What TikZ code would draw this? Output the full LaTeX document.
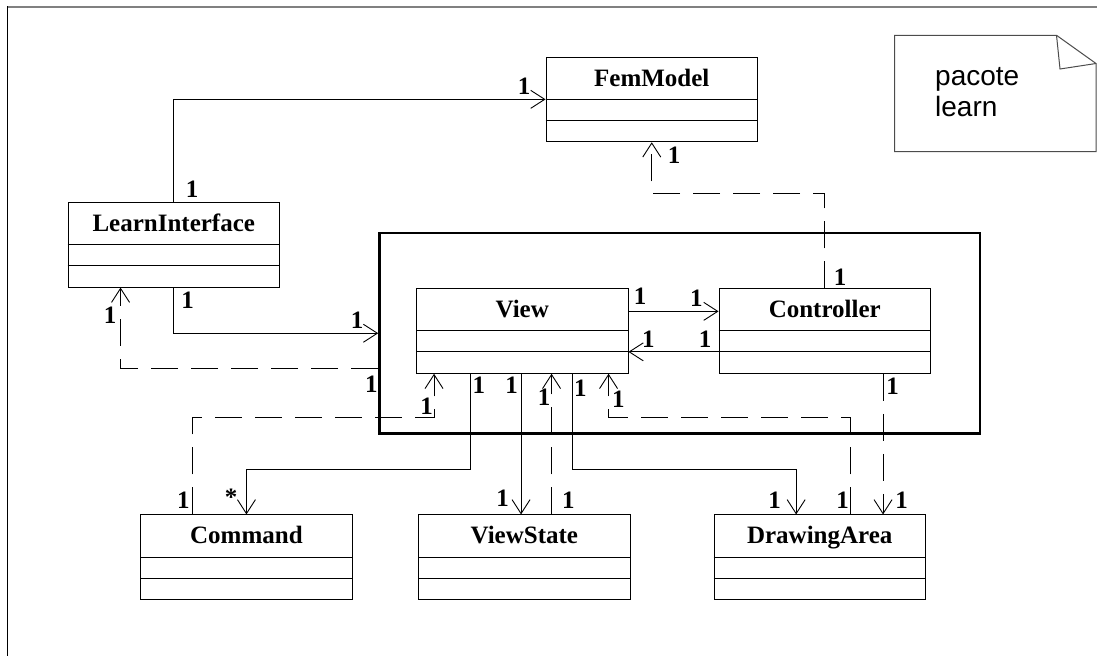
\documentclass[tikz,border=0pt]{standalone}
\usepackage{fontspec}
\setmainfont{Liberation Serif}
\newfontfamily\notefont{Liberation Sans}
\usetikzlibrary{arrows.meta}
\tikzset{
  clsbox/.style={draw=black, line width=0.9pt, minimum width=211.5pt, minimum height=84.5pt, inner sep=0pt},
  clsline/.style={draw=black, line width=0.9pt},
  clstitle/.style={font=\bfseries\fontsize{25}{26}\selectfont, inner sep=0pt, anchor=base},
  pkgbox/.style={draw=black, line width=2.4pt, minimum width=600.6pt, minimum height=200.1pt, inner sep=0pt},
  assoc/.style={draw=black, line width=0.9pt, -{Straight Barb[length=14pt,width=18pt,line width=0.9pt]}},
  dep/.style={draw=black, line width=0.9pt, dash pattern=on 27pt off 13pt, -{Straight Barb[length=14pt,width=18pt,line width=0.9pt]}},
  mult/.style={font=\bfseries\fontsize{25}{25}\selectfont, inner sep=0pt},
  notetext/.style={font=\notefont\fontsize{28}{32}\selectfont, inner sep=0pt, anchor=base west},
}
\newcommand\umlclass[4]{%
  \node[clsbox] (#1) at ({#2+105.75},{#3+42.25}) {};
  \draw[clsline] ([yshift=-42.5pt]#1.north west) -- ([yshift=-42.5pt]#1.north east);
  \draw[clsline] ([yshift=-63.5pt]#1.north west) -- ([yshift=-63.5pt]#1.north east);
  \node[clstitle] (#1t) at ([yshift=-29.5pt]#1.north) {#4};
}
\begin{document}
\begin{tikzpicture}[x=1pt, y=-1pt]
\useasboundingbox (0,0) rectangle (1097,656);
% frame
\draw[gray, line width=2pt] (7,6.7) -- (1097,6.7);
\draw[black, line width=1.5pt] (7.3,6) -- (7.3,656);
% note
\draw[draw=black!70, line width=1pt, line join=miter] (894.6,35.3) -- (1056.5,35.3) -- (1096,63.5) -- (1096,151.5) -- (894.6,151.5) -- cycle;
\draw[draw=black!70, line width=1pt, line join=miter] (1056.5,35.3) -- (1060,69) -- (1096,63.5);
\node[notetext] (note1) at (935,85) {pacote};
\node[notetext] (note2) at (935,116.7) {learn};
% package
\node[pkgbox] (pkg) at (679.7,333.25) {};
% classes
\umlclass{fem}{546}{57.3}{FemModel}
\umlclass{li}{68}{202.6}{LearnInterface}
\umlclass{view}{416.5}{288.8}{View}
\umlclass{ctrl}{719}{288.8}{Controller}
\umlclass{cmd}{140.7}{514.9}{Command}
\umlclass{vs}{418.6}{514.9}{ViewState}
\umlclass{da}{714}{514.9}{DrawingArea}
% connectors
\draw[assoc] (li.north) |- ([yshift=-42.5pt]fem.north west);
\draw[assoc] (li.south) |- (pkg.west);
\draw[dep] ([yshift=-35pt]pkg.west) -| ([xshift=53pt]li.south west);
\draw[dep] (ctrl.north) -- ++(0,-95.4) -| (fem.south);
\draw[assoc] ([yshift=-23pt]view.north east) -- ([yshift=-23pt]ctrl.north west);
\draw[assoc] ([yshift=-63.5pt]ctrl.north west) -- ([yshift=-63.5pt]view.north east);
\draw[dep] ([xshift=52pt]cmd.north west) -- ++(0,-97.1) -| ([xshift=18pt]view.south west);
\draw[assoc] ([xshift=54pt]view.south west) -- ++(0,95.4) -| (cmd.north);
\coordinate (p9) at ([xshift=105pt]view.south west);
\draw[assoc] (p9) -- (p9 |- vs.north);
\coordinate (p10) at ([xshift=135.5pt]view.south west);
\draw[dep] (p10 |- vs.north) -- (p10);
\draw[assoc] ([xshift=156.5pt]view.south west) -- ++(0,95.4) -| ([xshift=82.6pt]da.north west);
\draw[dep] ([xshift=137pt]da.north west) -- ++(0,-97.1) -| ([xshift=192.5pt]view.south west);
\coordinate (p13) at ([xshift=164.5pt]ctrl.south west);
\draw[dep] (p13) -- (p13 |- da.north);
% multiplicities
\node[mult] (m1) at (524.1,86.3) {1};
\node[mult] (m2) at (192,189.3) {1};
\node[mult] (m3) at (187.7,300) {1};
\node[mult] (m4) at (110,315.5) {1};
\node[mult] (m5) at (357,320.3) {1};
\node[mult] (m6) at (371.3,384) {1};
\node[mult] (m7) at (674,155.7) {1};
\node[mult] (m8) at (840,277.5) {1};
\node[mult] (m9) at (640,296.3) {1};
\node[mult] (m10) at (696.3,297.8) {1};
\node[mult] (m11) at (648.3,339) {1};
\node[mult] (m12) at (705,339) {1};
\node[mult] (m13) at (426.7,406.5) {1};
\node[mult] (m14) at (478.8,385) {1};
\node[mult] (m15) at (511.7,385) {1};
\node[mult] (m16) at (544,397.5) {1};
\node[mult] (m17) at (580.3,388) {1};
\node[mult] (m18) at (618.3,399.3) {1};
\node[mult] (m19) at (892.7,386.3) {1};
\node[mult] (m20) at (183.3,500) {1};
\node[mult] (m21) at (231,497) {*};
\node[mult] (m22) at (502.6,498.3) {1};
\node[mult] (m23) at (568.3,500) {1};
\node[mult] (m24) at (774.5,500) {1};
\node[mult] (m25) at (842.7,500) {1};
\node[mult] (m26) at (901.7,500) {1};
\end{tikzpicture}
\end{document}
